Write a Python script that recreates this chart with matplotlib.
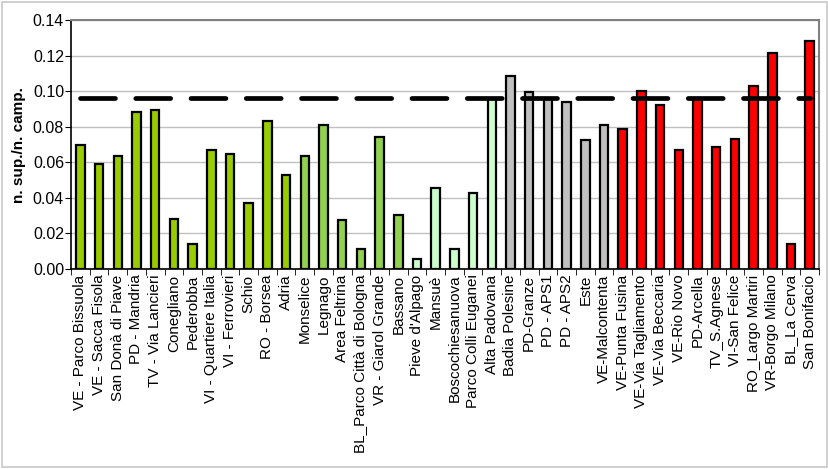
import numpy as np
import matplotlib.pyplot as plt
from matplotlib.patches import Rectangle

plt.rcParams['font.family'] = ['Liberation Sans', 'DejaVu Sans']

stations = ['VE - Parco Bissuola', 'VE - Sacca Fisola', 'San Donà di Piave', 'PD - Mandria',
            'TV - Via Lancieri', 'Conegliano', 'Pederobba', 'VI - Quartiere Italia',
            'VI - Ferrovieri', 'Schio', 'RO - Borsea', 'Adria', 'Monselice', 'Legnago',
            'Area Feltrina', 'BL_Parco Città di Bologna', 'VR - Giarol Grande', 'Bassano',
            "Pieve d'Alpago", 'Mansuè', 'Boscochiesanuova', 'Parco Colli Euganei',
            'Alta Padovana', 'Badia Polesine', 'PD-Granze', 'PD - APS1', 'PD - APS2', 'Este',
            'VE-Malcontenta', 'VE-Punta Fusina', 'VE-Via Tagliamento', 'VE-Via Beccaria',
            'VE-Rio Novo', 'PD-Arcella', 'TV_S.Agnese', 'VI-San Felice', 'RO_Largo Martiri',
            'VR-Borgo Milano', 'BL_La Cerva', 'San Bonifacio']
ratio = [0.0698, 0.0593, 0.0638, 0.0885, 0.0896, 0.0279, 0.0138, 0.0670, 0.0648, 0.0374,
         0.0835, 0.0531, 0.0638, 0.0812, 0.0273, 0.0110, 0.0745, 0.0305, 0.0054, 0.0453,
         0.0110, 0.0425, 0.0955, 0.1087, 0.0997, 0.0955, 0.0941, 0.0728, 0.0812, 0.0790,
         0.1003, 0.0924, 0.0672, 0.0955, 0.0689, 0.0733, 0.1031, 0.1216, 0.0138, 0.1284]
# group of each station: 0 dark green, 1 green, 2 pale green, 3 grey, 4 red
group = [0]*12 + [1]*6 + [2]*5 + [3]*6 + [4]*11
group_colors = ['#99CC00', '#92D050', '#CCFFCC', '#C0C0C0', '#FF0000']
mean_ratio = 0.096

fig = plt.figure(figsize=(8.29, 4.69), dpi=100)
fig.patches.append(Rectangle((0.003, 0.004), 0.994, 0.992, transform=fig.transFigure,
                             fill=False, edgecolor='#c8c8c8', linewidth=1.2))
ax = fig.add_axes([0.0857, 0.4264, 0.9023, 0.5306])

x = np.arange(len(stations))
cols = [group_colors[g] for g in group]
ax.bar(x, ratio, width=0.45, color=cols, edgecolor='black', linewidth=1.6, zorder=2)

ax.plot([0, len(stations) - 1], [mean_ratio, mean_ratio], color='black', linewidth=3.4,
        dashes=(7.4, 4.3), dash_capstyle='round', zorder=3)

ax.set_xlim(-0.5, len(stations) - 0.5)
ax.set_ylim(0, 0.14)
ax.set_yticks(np.arange(0, 0.141, 0.02))
ax.set_yticklabels(['%.2f' % v for v in np.arange(0, 0.141, 0.02)], fontsize=11.5)
ax.yaxis.grid(True, color='#c0c0c0', linewidth=1, zorder=0)
ax.set_axisbelow(True)

ax.set_xticks(x)
ax.set_xticklabels(stations, rotation=90, fontsize=11)
ax.set_xticks(np.arange(-0.5, len(stations), 1), minor=True)
ax.tick_params(axis='x', which='major', length=0, pad=4)
ax.tick_params(axis='x', which='minor', length=4, color='black', direction='out')
ax.tick_params(axis='y', length=4, color='black', direction='out', pad=1)

ax.set_ylabel('n. sup./n. camp.', fontsize=11, fontweight='bold', labelpad=5)

for side in ['top', 'right']:
    ax.spines[side].set_color('#808080')
    ax.spines[side].set_linewidth(1.5)
for side in ['left', 'bottom']:
    ax.spines[side].set_color('black')
    ax.spines[side].set_linewidth(1.2)

fig.savefig('out.png', dpi=100)
